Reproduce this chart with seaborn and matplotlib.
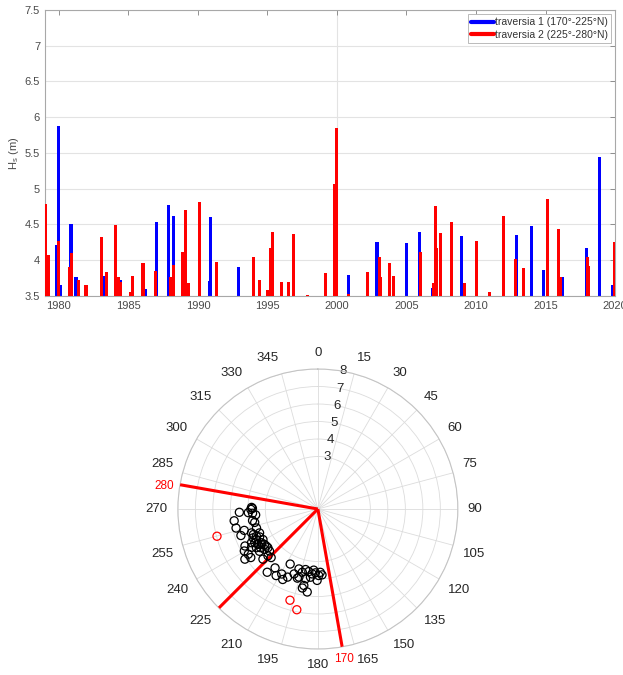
import numpy as np
import matplotlib
matplotlib.use("Agg")
import matplotlib.pyplot as plt
from matplotlib.lines import Line2D
from matplotlib.ticker import FormatStrFormatter
import seaborn as sns

# ---------------- data ----------------
# traversia 1 (170-225 N) events: date (decimal year) and Hs (m)
t1_years = [1979.15, 1979.85, 1979.96, 1980.1, 1980.87, 1981.23, 1983.25, 1984.4,
            1986.2, 1987.03, 1987.88, 1988.25, 1990.85, 1990.92, 1992.9, 2000.85,
            2002.88, 2005.02, 2005.93, 2006.9, 2008.98, 2012.93, 2014.01, 2014.85,
            2016.2, 2017.97, 2018.86, 2019.85]
t1_hs = [3.82, 4.21, 5.88, 3.66, 4.51, 3.76, 3.78, 3.73,
         3.60, 4.53, 4.77, 4.62, 3.71, 4.61, 3.90, 3.79,
         4.26, 4.24, 4.40, 3.61, 4.34, 4.35, 4.48, 3.86,
         3.77, 4.17, 5.45, 3.65]

# traversia 2 (225-280 N) events
t2_years = [1979.05, 1979.25, 1980.0, 1980.75, 1980.9, 1981.4, 1981.95, 1983.08,
            1983.4, 1984.04, 1984.25, 1984.4, 1985.17, 1985.28, 1986.05, 1986.98,
            1988.06, 1988.25, 1988.9, 1989.13, 1989.3, 1990.1, 1991.35, 1993.99,
            1994.4, 1995.02, 1995.2, 1995.35, 1996.0, 1996.5, 1996.87, 1997.9,
            1999.15, 1999.86, 2000.0, 2000.85, 2002.17, 2003.03, 2003.15, 2003.8,
            2004.06, 2006.03, 2006.95, 2007.06, 2007.18, 2007.47, 2008.26, 2009.2,
            2010.03, 2010.96, 2011.97, 2012.86, 2013.41, 2015.12, 2015.93, 2016.1,
            2018.0, 2018.12, 2019.95]
t2_hs = [4.79, 4.07, 4.27, 3.90, 4.10, 3.72, 3.65, 4.33,
         3.84, 4.49, 3.77, 3.69, 3.55, 3.78, 3.96, 3.85,
         3.77, 3.93, 4.11, 4.70, 3.68, 4.82, 3.98, 4.05,
         3.72, 3.59, 4.17, 4.39, 3.70, 3.69, 4.37, 3.51,
         3.82, 5.06, 5.85, 3.53, 3.84, 4.04, 3.77, 3.96,
         3.78, 4.12, 3.68, 4.76, 4.17, 4.38, 4.54, 3.68,
         4.27, 3.56, 4.62, 4.02, 3.89, 4.86, 4.44, 3.77,
         4.04, 3.92, 4.26]

# polar: direction (deg N) and Hs of all events
dir_black = [271.4, 270.6, 269.7, 267.6, 262.0, 256.9, 253.8, 251.0, 267.0, 266.3,
             264.6, 260.0, 258.0, 252.8, 246.0, 246.1, 244.4, 240.9, 241.9, 239.4,
             239.2, 236.4, 243.1, 237.8, 236.0, 232.9, 232.3, 229.0, 247.7, 250.2,
             234.3, 243.1, 240.3, 237.0, 235.5, 234.1, 227.6, 226.8, 223.9, 243.6,
             237.9, 240.0, 248.4, 234.1,
             206.7, 216.0, 218.7, 212.1, 209.1, 206.5, 204.0, 200.1, 197.5, 193.8,
             191.5, 188.2, 185.0, 182.2, 179.3, 176.4, 186.2, 190.0, 180.6, 191.1,
             187.3, 190.4, 183.9, 196.5, 177.8, 195.5]
hs_black = [3.79, 3.74, 3.83, 4.49, 4.83, 4.80, 4.38, 4.65, 3.98, 3.74,
            3.57, 3.79, 3.69, 3.67, 4.05, 3.84, 3.69, 3.59, 4.09, 3.97,
            3.76, 3.66, 4.25, 4.15, 3.95, 3.82, 3.61, 3.66, 3.60, 4.03,
            3.63, 4.67, 4.84, 4.74, 5.06, 4.73, 4.25, 3.91, 3.85, 3.92,
            3.81, 4.38, 3.96, 4.12,
            3.52, 4.16, 4.63, 4.49, 4.25, 4.50, 4.26, 3.95, 3.59, 3.72,
            3.53, 3.61, 3.72, 3.65, 3.80, 3.77, 3.92, 4.05, 4.08, 4.60,
            4.78, 4.44, 3.50, 4.12, 3.62, 4.04]
dir_red = [254.9, 197.0, 191.8]
hs_red = [5.97, 5.45, 5.88]

sector_lines = [170, 225, 280]
legend_labels = ["traversia 1 (170°-225°N)", "traversia 2 (225°-280°N)"]
year_ticks = [1980, 1985, 1990, 1995, 2000, 2005, 2010, 2015, 2020]
hs_ticks = [3.5, 4, 4.5, 5, 5.5, 6, 6.5, 7, 7.5]
theta_ticks = list(range(0, 360, 15))
r_ticks = [3, 4, 5, 6, 7, 8]

# ---------------- style ----------------
sns.set_style("white")
plt.rcParams["font.family"] = ["Liberation Sans", "DejaVu Sans"]
plt.rcParams["mathtext.fontset"] = "custom"
plt.rcParams["mathtext.rm"] = "Liberation Sans"
plt.rcParams["mathtext.it"] = "Liberation Sans"

tick_col = "#4a4a4a"
spine_col = "#a8a8a8"
grid_col = "#e3e3e3"

fig = plt.figure(figsize=(6.23, 6.75), dpi=100)

# ---------------- top bar chart ----------------
ax = fig.add_axes([0.0722, 0.5615, 0.915, 0.4237])
bw = 0.22
ax.bar(t1_years, t1_hs, width=bw, color="#0000ff", edgecolor="none", zorder=2)
ax.bar(t2_years, t2_hs, width=bw, color="#ff0000", edgecolor="none", zorder=3)
ax.set_xlim(1979, 2020)
ax.set_ylim(3.5, 7.5)
ax.set_xticks(year_ticks)
ax.set_yticks(hs_ticks)
ax.yaxis.set_major_formatter(FormatStrFormatter("%g"))
ax.grid(axis="y", color=grid_col, lw=0.8, zorder=0)
ax.axvline(2000, color=grid_col, lw=0.8, zorder=0)
ax.set_axisbelow(True)
for s in ax.spines.values():
    s.set_color(spine_col)
    s.set_linewidth(0.8)
ax.tick_params(direction="in", length=3.5, width=0.6, color="#808080",
               labelsize=8, labelcolor=tick_col, top=True, right=True)
ax.set_ylabel("H$_{\\mathregular{s}}$ (m)", fontsize=8, color=tick_col, labelpad=3)

handles = [Line2D([0], [0], color="#0000ff", lw=3),
           Line2D([0], [0], color="#ff0000", lw=3)]
leg = ax.legend(handles, legend_labels, loc="upper right", fontsize=7.5,
                frameon=True, fancybox=False, framealpha=1, edgecolor="#b0b0b0",
                handlelength=2.2, handletextpad=0.1, borderpad=0.3,
                borderaxespad=0.4, labelspacing=0.25, labelcolor="#333333")
leg.get_frame().set_linewidth(0.6)

# ---------------- polar scatter ----------------
pax = fig.add_axes([0.2855, 0.0385, 0.4494, 0.4148], projection="polar")
pax.set_theta_zero_location("N")
pax.set_theta_direction(-1)
pax.set_ylim(0, 8)
pax.set_yticks(r_ticks)
pax.set_rlabel_position(10.5)
pax.set_thetagrids(theta_ticks, labels=[""] * len(theta_ticks))
pax.grid(color="#dcdcdc", lw=0.6)
pax.spines["polar"].set_color("#c4c4c4")
pax.spines["polar"].set_linewidth(0.8)
pax.tick_params(axis="y", labelsize=9.5, labelcolor="#262626")
for lab in pax.get_yticklabels():
    lab.set_ha("center")
    lab.set_va("center")

# MATLAB-style angular labels: anchored just outside the rim, aligned by quadrant
r_lab = 8.57
for t in theta_ticks:
    s, c = np.sin(np.deg2rad(t)), np.cos(np.deg2rad(t))
    ha = "center" if abs(s) < 1e-6 else ("left" if s > 0 else "right")
    va = "center" if abs(c) < 1e-6 else ("bottom" if c > 0 else "top")
    pax.text(np.deg2rad(t), r_lab, str(t), ha=ha, va=va, fontsize=9.5,
             color="#262626", clip_on=False)

for ang in sector_lines:
    pax.plot([np.deg2rad(ang)] * 2, [0, 8], color="red", lw=2.2, zorder=4,
             solid_capstyle="butt")

sns.scatterplot(x=np.deg2rad(dir_black), y=hs_black, ax=pax, marker="o", s=34,
                color="none", edgecolor="black", linewidth=0.9, zorder=5)
sns.scatterplot(x=np.deg2rad(dir_red), y=hs_red, ax=pax, marker="o", s=34,
                color="none", edgecolor="red", linewidth=0.9, zorder=5)
pax.set_xlabel("")
pax.set_ylabel("")

pax.text(np.deg2rad(278.7), 8.87, "280", color="red", fontsize=8.5,
         ha="center", va="center", clip_on=False)
pax.text(np.deg2rad(170), 8.73, "170", color="red", fontsize=8.5,
         ha="center", va="center", clip_on=False)

fig.savefig("out.png", dpi=100)
